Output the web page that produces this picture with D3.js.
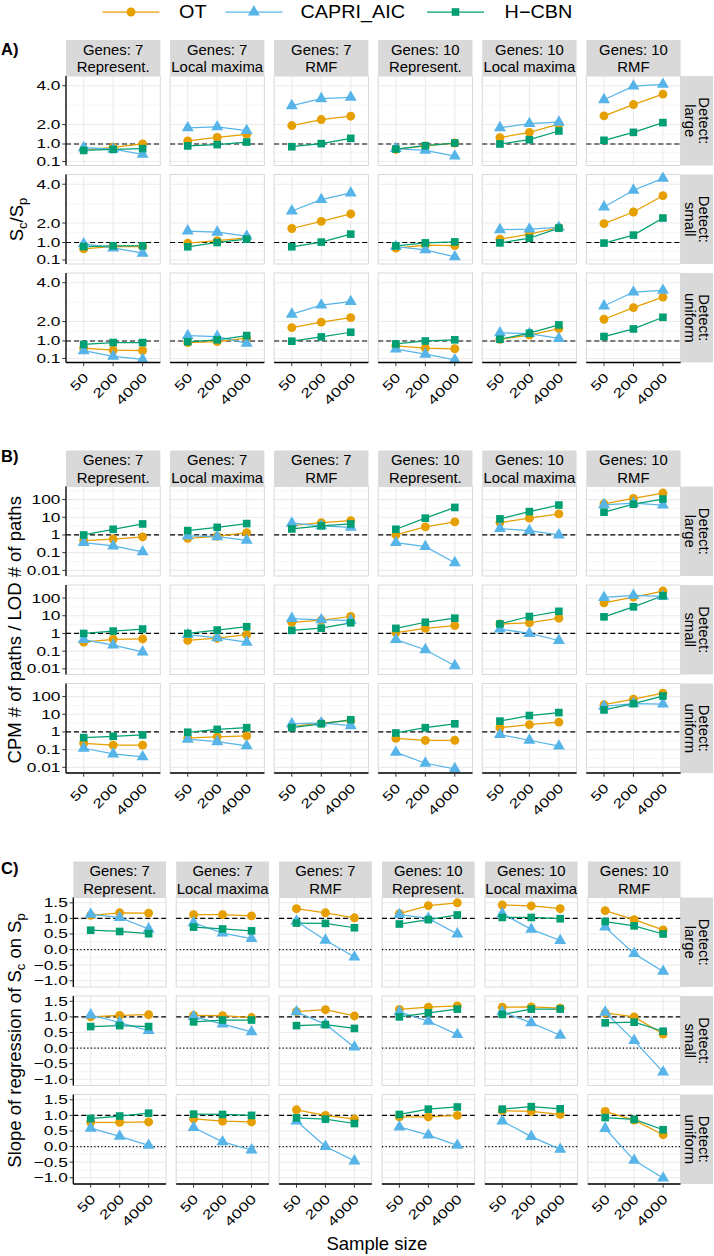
<!DOCTYPE html>
<html><head><meta charset="utf-8">
<script src="https://cdn.jsdelivr.net/npm/d3@7"></script>
<style>
body{margin:0;background:#fff}
text{font-family:"Liberation Sans",Arial,Helvetica,sans-serif;fill:#000}
</style>
</head><body>
<svg id="chart" width="714" height="1256"></svg>
<script>
// ---------- data ----------
const sampleSizes = ["50", "200", "4000"];
const methods = ["OT", "CAPRI_AIC", "H\u2212CBN"];
const methodColors = ["#E69F00", "#56B4E9", "#009E73"];
const colGenes = ["Genes: 7", "Genes: 7", "Genes: 7", "Genes: 10", "Genes: 10", "Genes: 10"];
const colModels = ["Represent.", "Local maxima", "RMF", "Represent.", "Local maxima", "RMF"];
const rowLabels = ["large", "small", "uniform"];

// rows: large, small, uniform; 6 facet columns; values at 50, 200, 4000
const ratioOT = [
  [[0.70,0.83,1.00],[1.16,1.34,1.50],[1.95,2.26,2.43],[0.72,0.90,1.05],[1.33,1.60,2.02],[2.45,3.03,3.57]],
  [[0.67,0.80,0.79],[0.97,1.09,1.24],[1.72,2.09,2.47],[0.71,0.86,0.84],[1.17,1.43,1.76],[1.97,2.57,3.41]],
  [[0.63,0.53,0.51],[0.92,0.97,1.15],[1.69,1.97,2.20],[0.75,0.63,0.60],[1.09,1.30,1.64],[2.12,2.72,3.26]]
];
const ratioCAPRI = [
  [[0.81,0.74,0.47],[1.83,1.88,1.69],[2.97,3.33,3.40],[0.76,0.67,0.38],[1.84,2.05,2.12],[3.28,3.98,4.07]],
  [[0.93,0.72,0.45],[1.59,1.53,1.33],[2.62,3.21,3.55],[0.79,0.62,0.26],[1.66,1.69,1.78],[2.83,3.69,4.30]],
  [[0.50,0.21,0.05],[1.27,1.23,0.88],[2.38,2.85,3.03],[0.58,0.32,0.03],[1.42,1.38,1.13],[2.80,3.52,3.61]]
];
const ratioHCBN = [
  [[0.67,0.72,0.76],[0.90,0.97,1.10],[0.86,1.02,1.29],[0.74,0.91,1.05],[1.00,1.22,1.67],[1.19,1.60,2.10]],
  [[0.79,0.83,0.83],[0.78,1.00,1.17],[0.78,1.02,1.43],[0.83,0.98,1.03],[0.98,1.22,1.74],[0.97,1.38,2.26]],
  [[0.82,0.92,0.92],[0.96,1.06,1.28],[0.99,1.21,1.45],[0.85,1.00,1.06],[1.09,1.40,1.83],[1.23,1.62,2.22]]
];

const pathsOT = [
  [[0.48,0.59,0.77],[0.65,0.84,1.36],[3.4,5.0,6.5],[1.0,2.85,5.5],[5.0,8.9,15.6],[58,117,234]],
  [[0.32,0.47,0.49],[0.41,0.54,0.87],[4.3,5.6,9.1],[1.1,1.94,2.8],[3.4,3.95,7.3],[54,114,250]],
  [[0.23,0.18,0.18],[0.46,0.53,0.60],[2.0,3.2,4.5],[0.44,0.33,0.34],[1.75,2.6,3.6],[35,72,157]]
];
const pathsCAPRI = [
  [[0.37,0.24,0.11],[0.88,0.80,0.50],[4.6,3.25,2.7],[0.37,0.22,0.027],[2.3,1.76,1.0],[51,63,49]],
  [[0.45,0.22,0.09],[0.87,0.56,0.32],[7.0,5.9,5.5],[0.45,0.12,0.015],[1.78,1.0,0.40],[109,142,125]],
  [[0.12,0.057,0.039],[0.39,0.28,0.165],[2.9,3.3,2.25],[0.07,0.017,0.0083],[0.71,0.34,0.16],[28,40,38]]
];
const pathsHCBN = [
  [[1.0,2.1,4.2],[1.76,2.7,4.4],[2.2,3.25,4.2],[2.1,8.9,36],[8.1,21,49],[19.5,55,107]],
  [[1.0,1.36,1.78],[1.0,1.56,2.4],[1.5,2.0,4.0],[1.94,4.3,7.3],[3.45,9.1,17.8],[8.7,32,135]],
  [[0.48,0.57,0.68],[0.96,1.4,1.75],[1.75,2.9,4.9],[0.88,1.74,2.9],[4.1,8.5,12.5],[17.6,40,107]]
];

const slopeOT = [
  [[1.10,1.18,1.17],[1.12,1.12,1.08],[1.31,1.18,1.02],[1.15,1.41,1.50],[1.43,1.40,1.31],[1.25,0.96,0.63]],
  [[1.00,1.05,1.07],[1.05,1.04,0.98],[1.17,1.23,1.03],[1.24,1.31,1.35],[1.31,1.32,1.28],[1.13,1.00,0.45]],
  [[0.78,0.78,0.79],[0.89,0.82,0.79],[1.18,1.00,0.88],[0.95,0.95,1.00],[1.15,1.13,1.03],[1.13,0.85,0.38]]
];
const slopeCAPRI = [
  [[1.13,1.03,0.66],[0.86,0.53,0.35],[0.91,0.30,-0.24],[1.12,1.00,0.50],[1.15,0.65,0.29],[0.72,-0.13,-0.70]],
  [[1.06,0.82,0.56],[1.01,0.77,0.52],[1.16,0.76,0.03],[1.16,0.86,0.43],[1.16,0.81,0.41],[1.15,0.24,-0.77]],
  [[0.59,0.33,0.04],[0.61,0.15,-0.11],[0.82,0.00,-0.46],[0.63,0.37,0.04],[0.82,0.32,-0.09],[0.58,-0.44,-1.01]]
];
const slopeHCBN = [
  [[0.62,0.58,0.51],[0.72,0.66,0.60],[0.85,0.84,0.70],[0.82,0.96,1.11],[1.03,1.03,0.99],[0.90,0.76,0.50]],
  [[0.69,0.72,0.69],[0.84,0.90,0.90],[0.72,0.75,0.63],[1.00,1.13,1.25],[1.08,1.25,1.25],[0.81,0.83,0.54]],
  [[0.90,0.98,1.07],[1.04,1.03,1.00],[0.92,0.88,0.74],[1.03,1.20,1.27],[1.20,1.28,1.21],[0.93,0.87,0.54]]
];

const ratioTicks = [0.1, 1, 2, 4];
const ratioTickLabels = ["0.1", "1.0", "2.0", "4.0"];
const ratioMinor = [0.55, 1.5, 3];
const pathTicks = [0.01, 0.1, 1, 10, 100];
const pathTickLabels = ["0.01", "0.1", "1", "10", "100"];
const pathMinor = [Math.pow(10,-1.5), Math.pow(10,-0.5), Math.pow(10,0.5), Math.pow(10,1.5), Math.pow(10,2.5)];
const slopeTicks = [-1, -0.5, 0, 0.5, 1, 1.5];
const slopeTickLabels = ["\u22121.0", "\u22120.5", "0.0", "0.5", "1.0", "1.5"];
const slopeMinor = [-0.75, -0.25, 0.25, 0.75, 1.25];

// ---------- layout ----------
const svg = d3.select("#chart");
const rowStep = 98.5, panelH = 89.5, stripH = 36, rStripW = 32.5;
const symbols = [
  d3.symbol().type(d3.symbolCircle).size(62),
  d3.symbol().type(d3.symbolTriangle).size(62),
  d3.symbol().type(d3.symbolSquare).size(58)
];

const blocks = [
  { letter: "A)", letterY: 55, stripTop: 40, x0: 66, step: 104.06, pw: 94.3,
    scale: () => d3.scaleLinear().domain([-0.107, 4.5]),
    ticks: ratioTicks, tickLabels: ratioTickLabels, minor: ratioMinor,
    refs: [{ v: 1, dash: "5,3" }], data: [ratioOT, ratioCAPRI, ratioHCBN] },
  { letter: "B)", letterY: 462, stripTop: 450.5, x0: 66, step: 104.06, pw: 94.3,
    scale: () => d3.scaleLog().domain([Math.pow(10,-2.32), Math.pow(10,2.74)]),
    ticks: pathTicks, tickLabels: pathTickLabels, minor: pathMinor,
    refs: [{ v: 1, dash: "5,3" }], data: [pathsOT, pathsCAPRI, pathsHCBN] },
  { letter: "C)", letterY: 874, stripTop: 861.5, x0: 73.3, step: 102.9, pw: 92.7,
    scale: () => d3.scaleLinear().domain([-1.2, 1.67]),
    ticks: slopeTicks, tickLabels: slopeTickLabels, minor: slopeMinor,
    refs: [{ v: 1, dash: "5,3" }, { v: 0, dash: "1.2,2.3" }], data: [slopeOT, slopeCAPRI, slopeHCBN] }
];

blocks.forEach(b => {
  const g = svg.append("g");
  const panelTop = b.stripTop + stripH;
  g.append("text").attr("x", 1).attr("y", b.letterY)
    .attr("font-size", 16.5).attr("font-weight", "bold").text(b.letter);

  for (let r = 0; r < 3; r++) {
    for (let c = 0; c < 6; c++) {
      const px = b.x0 + c * b.step, py = panelTop + r * rowStep;
      const x = d3.scalePoint().domain(sampleSizes).range([px, px + b.pw]).padding(0.6);
      const y = b.scale().range([py + panelH, py]);
      const pg = g.append("g");
      pg.append("rect").attr("x", px).attr("y", py).attr("width", b.pw).attr("height", panelH)
        .attr("fill", "#fff");
      pg.selectAll(".minor").data(b.minor).enter().append("line")
        .attr("x1", px).attr("x2", px + b.pw).attr("y1", d => y(d)).attr("y2", d => y(d))
        .attr("stroke", "#f1f1f1").attr("stroke-width", 0.7);
      pg.selectAll(".major").data(b.ticks).enter().append("line")
        .attr("x1", px).attr("x2", px + b.pw).attr("y1", d => y(d)).attr("y2", d => y(d))
        .attr("stroke", "#ebebeb").attr("stroke-width", 1.1);
      pg.selectAll(".vgrid").data(sampleSizes).enter().append("line")
        .attr("x1", d => x(d)).attr("x2", d => x(d)).attr("y1", py).attr("y2", py + panelH)
        .attr("stroke", "#ebebeb").attr("stroke-width", 1.1);
      pg.append("rect").attr("x", px).attr("y", py).attr("width", b.pw).attr("height", panelH)
        .attr("fill", "none").attr("stroke", "#d9d9d9").attr("stroke-width", 1);
      b.refs.forEach(rf => {
        pg.append("line").attr("x1", px).attr("x2", px + b.pw)
          .attr("y1", y(rf.v)).attr("y2", y(rf.v))
          .attr("stroke", "#000").attr("stroke-width", 1.2).attr("stroke-dasharray", rf.dash);
      });
      const line = d3.line().x((d, i) => x(sampleSizes[i])).y(d => y(d));
      b.data.forEach((arr, m) => {
        pg.append("path").attr("d", line(arr[r][c])).attr("fill", "none")
          .attr("stroke", methodColors[m]).attr("stroke-width", 1.25);
      });
      b.data.forEach((arr, m) => {
        pg.selectAll(".pt" + m).data(arr[r][c]).enter().append("path")
          .attr("d", symbols[m])
          .attr("transform", (d, i) => `translate(${x(sampleSizes[i])},${y(d)})`)
          .attr("fill", methodColors[m]);
      });

      // top strips
      if (r === 0) {
        g.append("rect").attr("x", px).attr("y", b.stripTop).attr("width", b.pw).attr("height", stripH)
          .attr("fill", "#d9d9d9");
        g.append("text").attr("x", px + b.pw / 2).attr("y", b.stripTop + 9.8)
          .attr("text-anchor", "middle").attr("dominant-baseline", "central")
          .attr("font-size", 14.3).attr("data-k", 1.04).text(colGenes[c]);
        g.append("text").attr("x", px + b.pw / 2).attr("y", b.stripTop + 27)
          .attr("text-anchor", "middle").attr("dominant-baseline", "central")
          .attr("font-size", 14.3).attr("data-k", 1.04).text(colModels[c]);
      }
      // right strips
      if (c === 5) {
        const sx = px + b.pw;
        g.append("rect").attr("x", sx).attr("y", py).attr("width", rStripW).attr("height", panelH)
          .attr("fill", "#d9d9d9");
        const cy = py + panelH / 2;
        g.append("text").attr("transform", `translate(${sx + 23},${cy}) rotate(90)`)
          .attr("text-anchor", "middle").attr("dominant-baseline", "central")
          .attr("font-size", 14.3).attr("data-k", 1.04).text("Detect:");
        g.append("text").attr("transform", `translate(${sx + 9.5},${cy}) rotate(90)`)
          .attr("text-anchor", "middle").attr("dominant-baseline", "central")
          .attr("font-size", 14.3).attr("data-k", 1.04).text(rowLabels[r]);
      }
      // y axis
      if (c === 0) {
        g.append("line").attr("x1", px).attr("x2", px).attr("y1", py).attr("y2", py + panelH)
          .attr("stroke", "#000").attr("stroke-width", 1.3);
        b.ticks.forEach((t, i) => {
          g.append("line").attr("x1", px - 3.7).attr("x2", px).attr("y1", y(t)).attr("y2", y(t))
            .attr("stroke", "#333").attr("stroke-width", 1);
          g.append("text").attr("x", px - 5.5).attr("y", y(t))
            .attr("text-anchor", "end").attr("dominant-baseline", "central")
            .attr("font-size", 13).attr("data-k", 1.33).text(b.tickLabels[i]);
        });
      }
      // x axis (bottom row only)
      if (r === 2) {
        g.append("line").attr("x1", px).attr("x2", px + b.pw).attr("y1", py + panelH).attr("y2", py + panelH)
          .attr("stroke", "#000").attr("stroke-width", 1.3);
        sampleSizes.forEach(s => {
          g.append("line").attr("x1", x(s)).attr("x2", x(s)).attr("y1", py + panelH).attr("y2", py + panelH + 3.7)
            .attr("stroke", "#333").attr("stroke-width", 1);
          g.append("text").attr("transform", `translate(${x(s) + 5.5},${py + panelH + 16}) rotate(-45)`)
            .attr("text-anchor", "end").attr("font-size", 13).attr("data-k", 1.33).text(s);
        });
      }
    }
  }
});

// y axis titles
function rotTitle(x, y, parts) {
  const t = svg.append("text").attr("transform", `translate(${x},${y}) rotate(-90)`)
    .attr("text-anchor", "middle").attr("font-size", 18.5);
  parts.forEach(p => {
    if (p.sub) {
      t.append("tspan").attr("font-size", 13).attr("dy", 4).text(p.t);
    } else {
      t.append("tspan").attr("dy", p.back ? -4 : 0).text(p.t);
    }
  });
}
rotTitle(23, 219.5, [{t:"S"},{t:"c",sub:true},{t:"/S",back:true},{t:"p",sub:true}]);
svg.append("text").attr("transform", "translate(21,629.8) rotate(-90)")
  .attr("text-anchor", "middle").attr("font-size", 18.5).text("CPM # of paths / LOD # of paths");
rotTitle(21, 1040.5, [{t:"Slope of regression of S"},{t:"c",sub:true},{t:" on S",back:true},{t:"p",sub:true}]);
svg.append("text").attr("x", 376.8).attr("y", 1250).attr("text-anchor", "middle")
  .attr("font-size", 18.5).text("Sample size");

// legend
const legX = [102.5, 225.4, 427];
const legTextX = [179, 300.5, 504.6];
const legY = 12;
methods.forEach((m, i) => {
  svg.append("line").attr("x1", legX[i]).attr("x2", legX[i] + 57).attr("y1", legY).attr("y2", legY)
    .attr("stroke", methodColors[i]).attr("stroke-width", 1.25);
  svg.append("path").attr("d", symbols[i]).attr("transform", `translate(${legX[i] + 28.5},${legY})`)
    .attr("fill", methodColors[i]);
  svg.append("text").attr("x", legTextX[i]).attr("y", legY).attr("dominant-baseline", "central")
    .attr("font-size", 18).attr("data-k", 1.1).text(m);
});

// horizontal stretch to mimic the reference glyph widths
svg.selectAll("text[data-k]").each(function () {
  const k = +this.getAttribute("data-k");
  const L = this.getComputedTextLength();
  this.setAttribute("textLength", (L * k).toFixed(2));
  this.setAttribute("lengthAdjust", "spacingAndGlyphs");
});
</script>
</body></html>
